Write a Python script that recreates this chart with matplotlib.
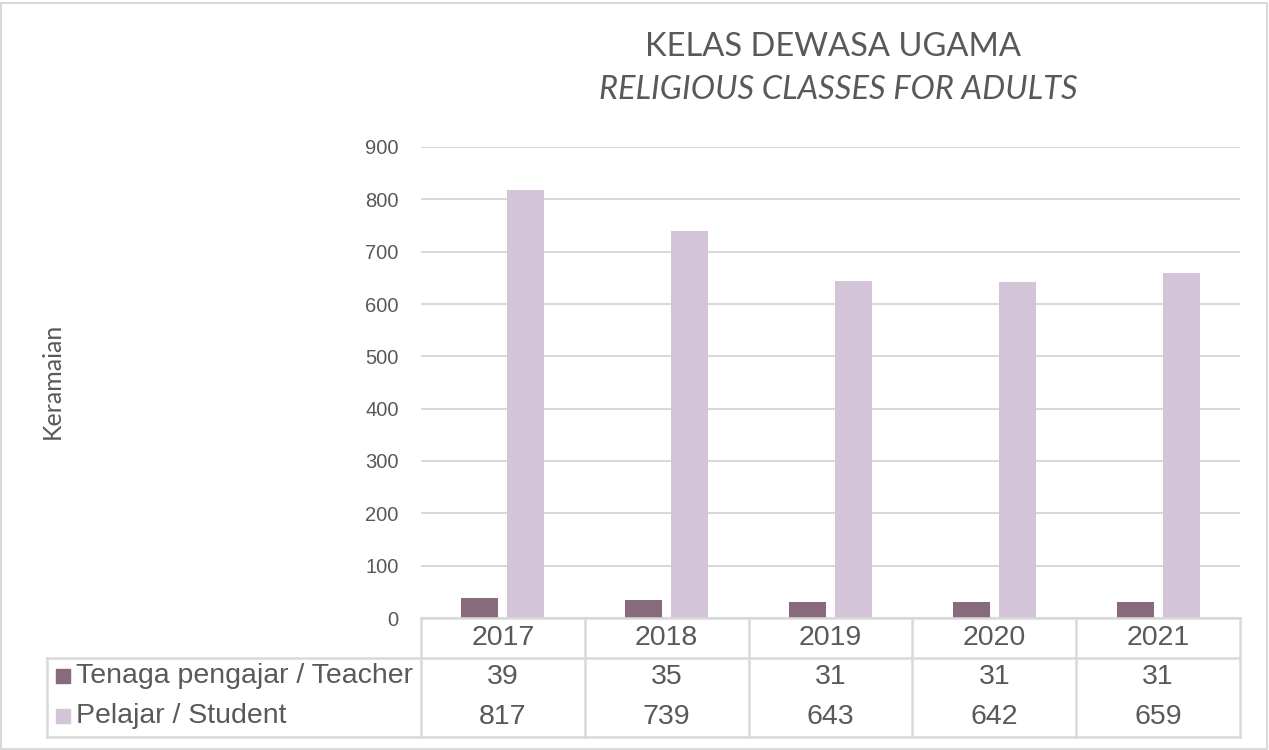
import matplotlib
matplotlib.use("Agg")
import matplotlib.pyplot as plt
from matplotlib.patches import Rectangle

years = ["2017", "2018", "2019", "2020", "2021"]
teacher = [39, 35, 31, 31, 31]
student = [817, 739, 643, 642, 659]
series_names = ["Tenaga pengajar / Teacher", "Pelajar / Student"]
yticks = list(range(0, 1000, 100))

C_TEACH = "#876A7C"
C_STUD = "#D3C4D8"
C_TEXT = "#595959"
C_GRID = "#D9D9D9"
W, H = 1269, 750

fig = plt.figure(figsize=(W / 100, H / 100), dpi=100)
fig.patch.set_facecolor("white")
fig.patches.append(Rectangle((1 / W, 1 / H), 1 - 3 / W, 1 - 4 / H, transform=fig.transFigure,
                             fill=False, ec=C_GRID, lw=1.5))

def px(x0, y0, x1, y1):
    return [x0 / W, 1 - y1 / H, (x1 - x0) / W, (y1 - y0) / H]

ax = fig.add_axes(px(421, 147, 1240, 618))
x = list(range(len(years)))
bw = 0.226
ax.bar([i - 0.14 for i in x], teacher, bw, color=C_TEACH, zorder=3)
ax.bar([i + 0.14 for i in x], student, bw, color=C_STUD, zorder=3)
ax.set_xlim(-0.5, len(years) - 0.5)
ax.set_ylim(0, 900)
ax.set_yticks(yticks)
ax.set_yticklabels([str(v) for v in yticks], fontsize=14.5, color=C_TEXT, family="Liberation Sans")
ax.tick_params(axis="y", length=0, pad=16)
ax.set_xticks([])
ax.grid(axis="y", color=C_GRID, lw=1.5, zorder=0)
for s in ax.spines.values():
    s.set_visible(False)

fig.text(833 / W, 1 - 47 / H, "KELAS DEWASA UGAMA", ha="center", va="center",
         fontsize=23.5, color=C_TEXT, family="Lato")
fig.text(838 / W, 1 - 90 / H, "RELIGIOUS CLASSES FOR ADULTS", ha="center", va="center",
         fontsize=23.5, color=C_TEXT, family="Lato", style="italic")
fig.text(52 / W, 1 - 381 / H, "Keramaian", ha="center", va="center", rotation=90,
         fontsize=18, color=C_TEXT, family="Lato")

# data table under the plot, sharing the category scale
tx = fig.add_axes(px(421, 618, 1240, 737))
tx.set_xlim(-0.5, len(years) - 0.5)
tx.set_ylim(3, 0)
tx.axis("off")
left = -0.5 - (421 - 47) / (819 / len(years))
lk = dict(color=C_GRID, lw=1.8, clip_on=False)
tx.plot([-0.5, len(years) - 0.5], [0, 0], **lk)
tx.plot([left, len(years) - 0.5], [1, 1], **lk)
tx.plot([left, len(years) - 0.5], [3, 3], **lk)
tx.plot([left, left], [1, 3], **lk)
for i in range(len(years) + 1):
    tx.plot([i - 0.5, i - 0.5], [0, 3], **lk)
tf = dict(ha="center", va="center", fontsize=20.5, color=C_TEXT, family="Liberation Sans")
for i, yr in enumerate(years):
    tx.text(i, 0.5, yr, **tf)
    tx.text(i, 1.5, str(teacher[i]), **tf)
    tx.text(i, 2.5, str(student[i]), **tf)
for r, (name, col) in enumerate(zip(series_names, [C_TEACH, C_STUD])):
    fig.patches.append(Rectangle((56 / W, 1 - (676 + 40 * r + 7) / H), 14 / W, 14 / H,
                                 transform=fig.transFigure, color=col))
    fig.text(76 / W, 1 - (676 + 40 * r) / H, name, ha="left", va="center",
             fontsize=20.5, color=C_TEXT, family="Liberation Sans")

fig.savefig("out.png", dpi=100)
